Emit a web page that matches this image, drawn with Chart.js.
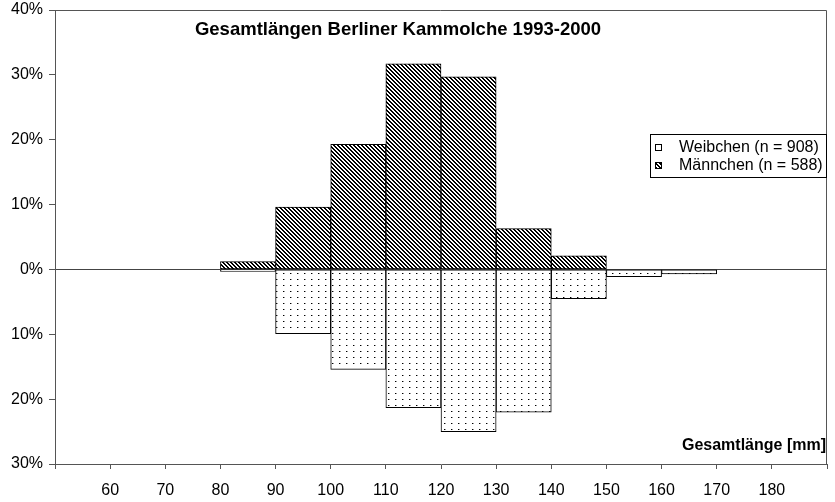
<!DOCTYPE html>
<html>
<head>
<meta charset="utf-8">
<script src="https://cdn.jsdelivr.net/npm/chart.js@4/dist/chart.umd.min.js"></script>
<style>
  body { margin: 0; background: #fff; }
  #chart { display: block; }
</style>
</head>
<body>
<canvas id="chart" width="835" height="502"></canvas>
<script>
// bin starts in mm (each bin is 10 mm wide)
const binStarts = [80, 90, 100, 110, 120, 130, 140, 150, 160];
// percentages
const weibchen = [0.3, 9.9, 15.4, 21.3, 25.0, 22.0, 4.5, 1.1, 0.7];
const maennchen = [1.2, 9.6, 19.3, 31.7, 29.7, 6.3, 2.1, 0, 0];
const xTickLabels = [60, 70, 80, 90, 100, 110, 120, 130, 140, 150, 160, 170, 180];

const chartTitle = "Gesamtlängen Berliner Kammolche 1993-2000";
const xTitle = "Gesamtlänge [mm]";
const legendLabels = ["Weibchen (n = 908)", "Männchen (n = 588)"];

function makeStripes() {
    let c = document.createElement("canvas");
    c.width = 4;
    c.height = 4;
    let g = c.getContext("2d");
    g.fillStyle = "#fff";
    g.fillRect(0, 0, 4, 4);
    g.fillStyle = "#000";
    for (let y = 0; y < 4; y++) {
        for (let x = 0; x < 4; x++) {
            if (((x - y + 8) % 4) < 2) g.fillRect(x, y, 1, 1);
        }
    }
    return g.createPattern(c, "repeat");
}

function makeDots() {
    let c = document.createElement("canvas");
    c.width = 7;
    c.height = 6;
    let g = c.getContext("2d");
    g.fillStyle = "#fff";
    g.fillRect(0, 0, 7, 6);
    g.fillStyle = "#000";
    g.fillRect(3, 3, 1, 1);
    g.fillStyle = "#999";
    g.fillRect(4, 3, 1, 1);
    return g.createPattern(c, "repeat");
}

const ctx = document.getElementById("chart").getContext("2d");
const stripes = makeStripes();
const dots = makeDots();

Chart.defaults.font.family = "'Liberation Sans', Arial, sans-serif";
Chart.defaults.font.size = 16;
Chart.defaults.color = "#000";

const extras = {
    id: "extras",
    beforeDatasetsDraw(chart) {
        let a = chart.chartArea;
        let g = chart.ctx;
        g.save();
        g.strokeStyle = "#555";
        g.lineWidth = 1;
        g.beginPath();
        g.moveTo(a.left, a.top + 0.5);
        g.lineTo(a.right - 0.5, a.top + 0.5);
        g.lineTo(a.right - 0.5, a.bottom);
        g.stroke();
        g.restore();
    },
    afterDraw(chart) {
        let a = chart.chartArea;
        let g = chart.ctx;
        g.save();
        g.fillStyle = "#000";
        g.font = "bold 18.5px 'Liberation Sans', Arial, sans-serif";
        g.textAlign = "center";
        g.textBaseline = "middle";
        g.fillText(chartTitle, 398, 30);

        g.font = "bold 16px 'Liberation Sans', Arial, sans-serif";
        g.textAlign = "right";
        g.fillText(xTitle, a.right - 1, 446);

        // legend box
        let lx = 650, ly = 134, lw = a.right - 650, lh = 44;
        g.fillStyle = "#fff";
        g.fillRect(lx, ly, lw, lh);
        g.strokeStyle = "#000";
        g.strokeRect(lx + 0.5, ly + 0.5, lw - 1, lh - 1);
        g.font = "16px 'Liberation Sans', Arial, sans-serif";
        g.textAlign = "left";
        let fills = [dots, stripes];
        for (let i = 0; i < legendLabels.length; i++) {
            let cy = 148 + i * 18;
            g.fillStyle = fills[i];
            g.fillRect(655, cy - 4, 7, 7);
            g.strokeStyle = "#000";
            g.strokeRect(655.5, cy - 3.5, 6, 6);
            g.fillStyle = "#000";
            g.fillText(legendLabels[i], 679, cy);
        }
        g.restore();
    }
};

new Chart(ctx, {
    type: "bar",
    data: {
        datasets: [{
            label: legendLabels[0],
            data: binStarts.map((b, i) => ({ x: b + 5, y: -weibchen[i] })),
            backgroundColor: dots,
            borderColor: "#000",
            borderWidth: 1,
            borderSkipped: false,
            grouped: false,
            barPercentage: 1,
            categoryPercentage: 1
        }, {
            label: legendLabels[1],
            data: binStarts.map((b, i) => ({ x: b + 5, y: maennchen[i] })),
            backgroundColor: stripes,
            borderColor: "#000",
            borderWidth: 1,
            borderSkipped: false,
            grouped: false,
            barPercentage: 1,
            categoryPercentage: 1
        }]
    },
    options: {
        responsive: false,
        animation: false,
        layout: { padding: { top: 10, right: 8, left: 0, bottom: 0 } },
        plugins: {
            legend: { display: false },
            title: { display: false },
            tooltip: { enabled: false }
        },
        scales: {
            x: {
                type: "linear",
                min: 50,
                max: 190,
                offset: false,
                afterFit: function (scale) {
                    scale.height = 38;
                    scale.paddingLeft = 0;
                    scale.paddingRight = 0;
                },
                afterBuildTicks: function (scale) {
                    let t = [];
                    for (let v = 50; v <= 190; v += 10) t.push({ value: v });
                    scale.ticks = t;
                },
                ticks: {
                    padding: 12,
                    maxRotation: 0,
                    autoSkip: false,
                    callback: function (v) { return xTickLabels.includes(v) ? String(v) : ""; }
                },
                grid: {
                    offset: false,
                    drawOnChartArea: false,
                    tickColor: "#555",
                    tickLength: 5
                },
                border: { color: "#555", width: 1 }
            },
            y: {
                min: -30,
                max: 40,
                afterFit: function (scale) {
                    scale.width = 55;
                    scale.paddingTop = 0;
                    scale.paddingBottom = 0;
                },
                ticks: {
                    stepSize: 10,
                    padding: 6,
                    callback: function (v) { return Math.abs(v) + "%"; }
                },
                grid: {
                    color: function (c) { return c.tick && c.tick.value === 0 ? "#444" : "rgba(0,0,0,0)"; },
                    tickColor: "#555",
                    tickLength: 6
                },
                border: { color: "#555", width: 1 }
            }
        }
    },
    plugins: [extras]
});
</script>
</body>
</html>
